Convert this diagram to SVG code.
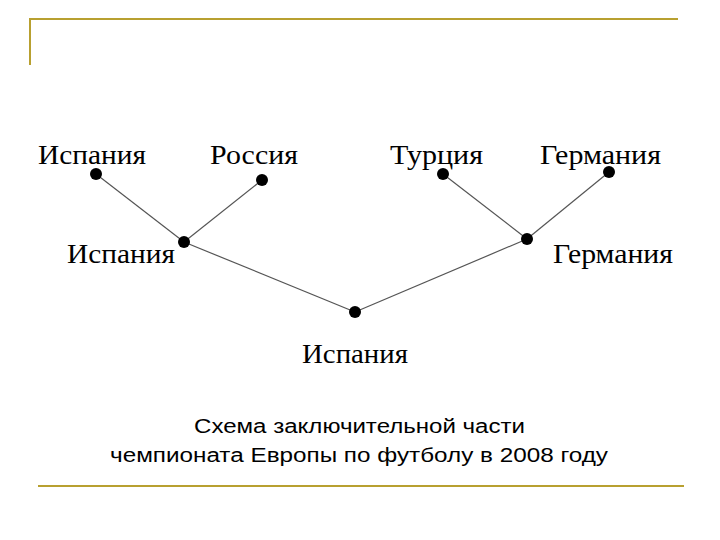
<svg xmlns="http://www.w3.org/2000/svg" width="720" height="540" viewBox="0 0 720 540">
<style>
.rule{stroke:#B8A030;stroke-width:2;fill:none}
.e{stroke:#555;stroke-width:1.2}
.n{fill:#000}
.t{font-family:"Liberation Serif",serif;font-size:27px;fill:#000}
.c{font-family:"Liberation Sans",sans-serif;font-size:20px;fill:#000}
</style>
<rect width="720" height="540" fill="#fff"/>
<path class="rule" d="M30 65V19H678"/>
<path class="rule" d="M38 486H684"/>
<g id="connectors">
<line class="e" x1="96" y1="174" x2="184" y2="242"/>
<line class="e" x1="262" y1="180" x2="184" y2="242"/>
<line class="e" x1="443" y1="174" x2="527" y2="239"/>
<line class="e" x1="609" y1="172" x2="527" y2="239"/>
<line class="e" x1="184" y1="242" x2="355" y2="312"/>
<line class="e" x1="527" y1="239" x2="355" y2="312"/>
</g>
<g id="n1"><circle class="n" cx="96" cy="174" r="6"/><text class="t" x="38" y="164" textLength="108" lengthAdjust="spacingAndGlyphs">Испания</text></g>
<g id="n2"><circle class="n" cx="262" cy="180" r="6"/><text class="t" x="210" y="164" textLength="88" lengthAdjust="spacingAndGlyphs">Россия</text></g>
<g id="n3"><circle class="n" cx="443" cy="174" r="6"/><text class="t" x="390" y="164" textLength="93" lengthAdjust="spacingAndGlyphs">Турция</text></g>
<g id="n4"><circle class="n" cx="609" cy="172" r="6"/><text class="t" x="540" y="164" textLength="121" lengthAdjust="spacingAndGlyphs">Германия</text></g>
<g id="n5"><circle class="n" cx="184" cy="242" r="6"/><text class="t" x="67" y="263" textLength="108" lengthAdjust="spacingAndGlyphs">Испания</text></g>
<g id="n6"><circle class="n" cx="527" cy="239" r="6"/><text class="t" x="553" y="263" textLength="120" lengthAdjust="spacingAndGlyphs">Германия</text></g>
<g id="n7"><circle class="n" cx="355" cy="312" r="6"/><text class="t" x="302" y="363" textLength="106" lengthAdjust="spacingAndGlyphs">Испания</text></g>
<text class="c" x="194" y="433" textLength="331" lengthAdjust="spacingAndGlyphs">Схема заключительной части</text>
<text class="c" x="110" y="462" textLength="498" lengthAdjust="spacingAndGlyphs">чемпионата Европы по футболу  в 2008 году</text>
</svg>
